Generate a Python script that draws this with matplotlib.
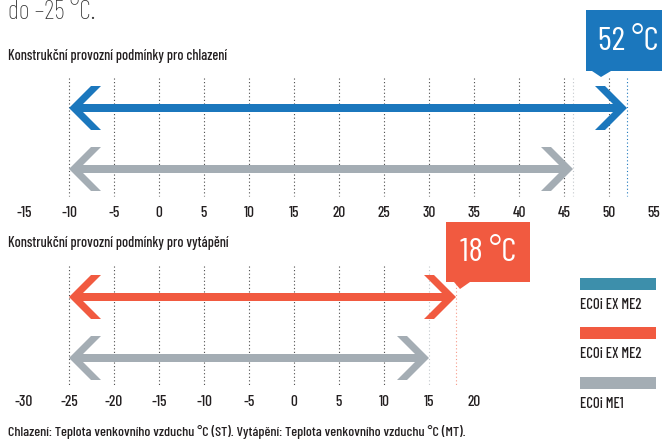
import matplotlib
matplotlib.use("Agg")
import matplotlib.pyplot as plt
from matplotlib.patches import Polygon, Rectangle

plt.rcParams['font.family'] = ['Barlow Condensed', 'DejaVu Sans']

# ---------------- data ----------------
cool_ticks = [-15, -10, -5, 0, 5, 10, 15, 20, 25, 30, 35, 40, 45, 50, 55]
cool_grid = [-10, -5, 0, 5, 10, 15, 20, 25, 30, 35, 40, 45, 50]
heat_ticks = [-30, -25, -20, -15, -10, -5, 0, 5, 10, 15, 20]
heat_grid = [-25, -20, -15, -10, -5, 0, 5, 10]

cool_series = ["ECOi EX ME2", "ECOi ME1"]
cool_min = [-10, -10]
cool_max = [52, 46]
heat_series = ["ECOi EX ME2", "ECOi ME1"]
heat_min = [-25, -25]
heat_max = [18, 15]

legend_labels = ["ECOi EX ME2", "ECOi EX ME2", "ECOi ME1"]

title_cool = "Konstrukční provozní podmínky pro chlazení"
title_heat = "Konstrukční provozní podmínky pro vytápění"
header = "do –25 °C."
footer = "Chlazení: Teplota venkovního vzduchu °C (ST). Vytápění: Teplota venkovního vzduchu °C (MT)."

# ---------------- style ----------------
BLUE = '#1b77bd'
GRAY = '#a4adb4'
RED = '#f15a40'
TEAL = '#3d8fab'
TXT = '#231f20'
cool_colors = [BLUE, GRAY]
heat_colors = [RED, GRAY]
legend_colors = [TEAL, RED, GRAY]

W, H = 662, 440
PX = 9.0  # pixels per degree

fig = plt.figure(figsize=(W / 100, H / 100), dpi=100)

def make_ax(zero_px):
    ax = fig.add_axes([0, 0, 1, 1])
    ax.set_xlim(-zero_px / PX, (W - zero_px) / PX)
    ax.set_ylim(H, 0)
    ax.axis('off')
    ax.patch.set_alpha(0)
    return ax

ax_c = make_ax(159)
ax_h = make_ax(294)
ax_o = fig.add_axes([0, 0, 1, 1])
ax_o.set_xlim(0, W)
ax_o.set_ylim(H, 0)
ax_o.axis('off')
ax_o.patch.set_alpha(0)

DOT = (0, (1, 2.2))
GRID = '#4a4a4a'

def arrow(ax, t0, t1, y, color):
    half = 4.0
    a0 = t0 + 8 / PX
    a1 = t1 - 8 / PX
    ax.add_patch(Rectangle((a0, y - half), a1 - a0, 2 * half, color=color, lw=0, zorder=3))
    pts = [(0, 0), (22, -22), (32, -22), (10, 0), (32, 22), (22, 22)]
    left = [(t0 + dx / PX, y + dy) for dx, dy in pts]
    right = [(t1 - dx / PX, y + dy) for dx, dy in pts]
    ax.add_patch(Polygon(left, closed=True, color=color, lw=0, zorder=3))
    ax.add_patch(Polygon(right, closed=True, color=color, lw=0, zorder=3))

def callout(ax, tip_t, tip_y, x0, x1, y0, y1, bx0, bx1, text, color):
    # box and pointer given as pixel offsets relative to the pointer tip
    xt = lambda dx: tip_t + dx / PX
    ax.add_patch(Polygon([(xt(x0), y0), (xt(x1), y0), (xt(x1), y1), (xt(bx1), y1),
                          (tip_t, tip_y), (xt(bx0), y1), (xt(x0), y1)],
                         closed=True, color=color, lw=0, zorder=5))
    ax.text(xt((x0 + x1) / 2), (y0 + y1) / 2 + 1, text,
            color='white', fontsize=24, ha='center', va='center', zorder=6)

# ---------------- cooling ----------------
ax_c.vlines(cool_grid, 78, 196, colors=GRID, linestyles=DOT, lw=0.8)
ax_c.vlines([cool_max[1]], 78, 196, colors='#c3c8cc', linestyles=DOT, lw=0.8)
ax_c.vlines([cool_max[0]], 78, 196, colors=BLUE, linestyles=DOT, lw=0.8)
for t0, t1, y, c in zip(cool_min, cool_max, [108, 169], cool_colors):
    arrow(ax_c, t0, t1, y, c)
for t in cool_ticks:
    ax_c.text(t, 213, str(t), ha='center', va='center', fontsize=11, color=TXT, fontweight='medium')
tip = cool_max[0] - 26 / PX
callout(ax_c, tip, 77, -15, 70, 10, 71, -9, 10, "52 °C", BLUE)

# ---------------- heating ----------------
ax_h.vlines(heat_grid, 266, 385, colors=GRID, linestyles=DOT, lw=0.8)
ax_h.vlines([heat_max[1]], 266, 385, colors='#c3c8cc', linestyles=DOT, lw=0.8)
ax_h.vlines([heat_max[0]], 266, 385, colors='#f79a88', linestyles=DOT, lw=0.8)
for t0, t1, y, c in zip(heat_min, heat_max, [297, 358], heat_colors):
    arrow(ax_h, t0, t1, y, c)
for t in heat_ticks:
    ax_h.text(t, 402, str(t), ha='center', va='center', fontsize=11, color=TXT, fontweight='medium')
tip = heat_max[0] + 4 / PX
callout(ax_h, tip, 289, -14, 70, 222, 282, -6, 10, "18 °C", RED)

# ---------------- texts & legend ----------------
ax_o.text(8, 19, header, fontsize=19, color='#333333', fontweight='light', va='baseline', ha='left')
ax_o.text(8, 56, title_cool, fontsize=10.3, color=TXT, fontweight='medium', va='center', ha='left')
ax_o.text(8, 243, title_heat, fontsize=10.3, color=TXT, fontweight='medium', va='center', ha='left')
ax_o.text(8, 432, footer, fontsize=10.2, color=TXT, fontweight='medium', va='center', ha='left')

for i, (lab, col) in enumerate(zip(legend_labels, legend_colors)):
    y0 = 278 + i * 49.5
    ax_o.add_patch(Rectangle((580, y0), 76, 12, color=col, lw=0))
    ax_o.text(580, y0 + 27, lab, fontsize=10.5, color=TXT, fontweight='medium', va='center', ha='left')

fig.savefig("out.png", dpi=100)
